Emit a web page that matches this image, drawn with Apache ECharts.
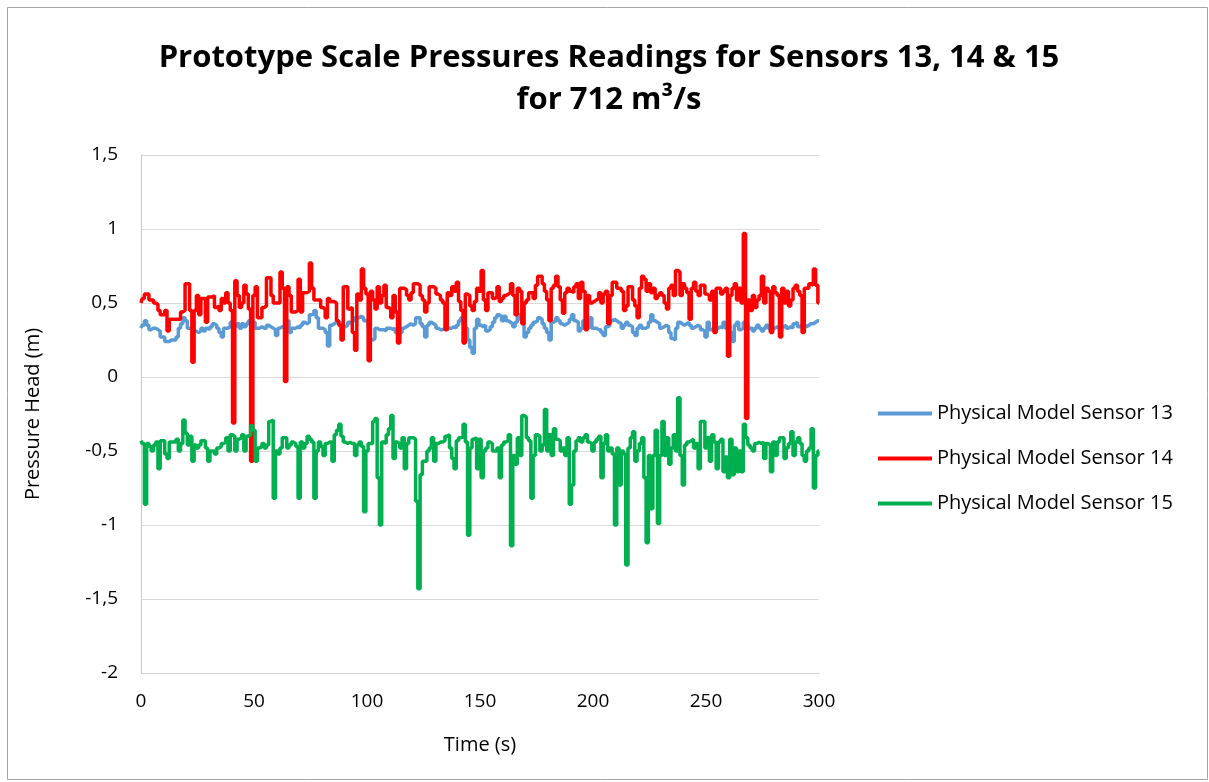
<!DOCTYPE html>
<html>
<head>
<meta charset="utf-8">
<script src="https://cdn.jsdelivr.net/npm/echarts@6/dist/echarts.min.js"></script>
<style>
html,body{margin:0;padding:0;background:#fff;}
#chart{width:1209px;height:782px;}
</style>
</head>
<body>
<div id="chart"></div>
<script>
// Time axis in seconds (0..300, 1 s step)
var timeSeconds = [];
for (var i = 0; i <= 300; i++) timeSeconds.push(i);

var sensor13 = [
0.33,0.35,0.38,0.35,0.32,0.33,0.33,0.32,0.31,0.27,
0.27,0.24,0.24,0.25,0.25,0.25,0.27,0.33,0.36,0.40,
0.38,0.33,0.33,0.33,0.31,0.30,0.31,0.33,0.31,0.33,
0.32,0.34,0.36,0.35,0.33,0.30,0.27,0.33,0.33,0.34,
0.37,0.35,0.34,0.36,0.33,0.36,0.34,0.36,0.38,0.35,
0.37,0.33,0.33,0.34,0.33,0.33,0.35,0.34,0.33,0.32,
0.28,0.33,0.34,0.34,0.34,0.38,0.30,0.33,0.33,0.34,
0.33,0.35,0.37,0.36,0.37,0.42,0.43,0.45,0.40,0.33,
0.33,0.32,0.30,0.21,0.35,0.36,0.37,0.37,0.36,0.37,
0.34,0.35,0.37,0.36,0.38,0.40,0.40,0.41,0.40,0.38,
0.37,0.33,0.25,0.26,0.33,0.32,0.32,0.32,0.31,0.33,
0.33,0.32,0.33,0.30,0.28,0.30,0.33,0.34,0.35,0.36,
0.35,0.36,0.40,0.40,0.36,0.34,0.27,0.35,0.37,0.36,
0.35,0.33,0.32,0.32,0.33,0.32,0.33,0.33,0.34,0.33,
0.35,0.38,0.40,0.36,0.33,0.25,0.20,0.16,0.33,0.39,
0.35,0.34,0.35,0.31,0.32,0.34,0.37,0.40,0.42,0.41,
0.38,0.41,0.38,0.37,0.36,0.34,0.37,0.42,0.39,0.37,
0.27,0.30,0.33,0.35,0.37,0.38,0.40,0.39,0.36,0.33,
0.30,0.25,0.37,0.38,0.40,0.38,0.36,0.35,0.36,0.37,
0.39,0.42,0.38,0.37,0.31,0.33,0.38,0.34,0.33,0.40,
0.33,0.33,0.32,0.32,0.30,0.28,0.34,0.35,0.38,0.39,
0.38,0.37,0.36,0.33,0.35,0.37,0.35,0.34,0.30,0.28,
0.33,0.35,0.33,0.33,0.34,0.37,0.42,0.38,0.37,0.36,
0.33,0.34,0.35,0.34,0.30,0.26,0.25,0.33,0.37,0.36,
0.35,0.36,0.37,0.35,0.33,0.34,0.35,0.34,0.32,0.31,
0.27,0.37,0.32,0.33,0.37,0.33,0.34,0.33,0.37,0.33,
0.36,0.30,0.24,0.35,0.37,0.32,0.33,0.37,0.36,0.33,
0.33,0.31,0.33,0.35,0.33,0.31,0.33,0.35,0.33,0.31,
0.33,0.34,0.33,0.31,0.34,0.35,0.33,0.34,0.33,0.36,
0.37,0.34,0.35,0.35,0.34,0.35,0.36,0.36,0.37,0.38,
0.38
];

var sensor14 = [
0.50,0.53,0.56,0.56,0.52,0.52,0.50,0.49,0.45,0.42,
0.42,0.45,0.31,0.39,0.39,0.39,0.39,0.39,0.44,0.45,
0.63,0.63,0.45,0.10,0.45,0.55,0.42,0.53,0.53,0.37,
0.54,0.54,0.55,0.47,0.48,0.45,0.53,0.50,0.57,0.50,
0.45,-0.31,0.65,0.55,0.47,0.50,0.62,0.56,0.46,-0.57,
0.55,0.61,0.40,0.40,0.47,0.48,0.67,0.67,0.55,0.50,
0.50,0.50,0.71,0.60,-0.03,0.61,0.55,0.44,0.44,0.45,
0.66,0.44,0.57,0.57,0.58,0.77,0.60,0.52,0.52,0.52,
0.47,0.46,0.40,0.53,0.51,0.51,0.50,0.38,0.35,0.25,
0.61,0.61,0.46,0.47,0.30,0.18,0.56,0.52,0.73,0.60,
0.56,0.11,0.58,0.52,0.46,0.61,0.50,0.55,0.62,0.47,
0.46,0.40,0.55,0.44,0.23,0.60,0.60,0.59,0.55,0.52,
0.57,0.63,0.63,0.62,0.55,0.52,0.44,0.50,0.61,0.61,
0.60,0.56,0.55,0.52,0.50,0.32,0.57,0.55,0.61,0.58,
0.64,0.51,0.45,0.23,0.56,0.55,0.48,0.45,0.51,0.60,
0.58,0.72,0.52,0.45,0.57,0.57,0.53,0.54,0.61,0.51,
0.53,0.55,0.56,0.57,0.63,0.55,0.42,0.60,0.58,0.36,
0.50,0.52,0.57,0.57,0.53,0.62,0.68,0.68,0.63,0.58,
0.52,0.38,0.60,0.62,0.68,0.61,0.52,0.43,0.57,0.60,
0.58,0.57,0.61,0.63,0.53,0.64,0.58,0.32,0.55,0.50,
0.51,0.52,0.53,0.57,0.50,0.56,0.58,0.36,0.55,0.64,
0.64,0.60,0.60,0.58,0.45,0.48,0.61,0.61,0.52,0.48,
0.40,0.60,0.68,0.66,0.58,0.63,0.57,0.60,0.53,0.55,
0.57,0.55,0.50,0.46,0.60,0.62,0.55,0.72,0.71,0.55,
0.63,0.60,0.57,0.39,0.60,0.64,0.58,0.55,0.62,0.62,
0.56,0.55,0.52,0.58,0.30,0.60,0.60,0.56,0.58,0.60,
0.14,0.55,0.60,0.63,0.52,0.60,0.50,0.97,-0.28,0.52,
0.45,0.55,0.47,0.52,0.55,0.68,0.50,0.60,0.58,0.30,
0.61,0.57,0.55,0.27,0.60,0.50,0.58,0.48,0.52,0.60,
0.62,0.58,0.55,0.30,0.60,0.60,0.63,0.62,0.73,0.62,
0.50
];

var sensor15 = [
-0.43,-0.45,-0.86,-0.45,-0.47,-0.50,-0.46,-0.44,-0.62,-0.43,
-0.43,-0.52,-0.55,-0.44,-0.44,-0.44,-0.42,-0.50,-0.45,-0.29,
-0.38,-0.46,-0.40,-0.57,-0.46,-0.48,-0.46,-0.43,-0.43,-0.48,
-0.57,-0.50,-0.50,-0.52,-0.48,-0.47,-0.45,-0.44,-0.41,-0.50,
-0.39,-0.40,-0.50,-0.42,-0.41,-0.39,-0.50,-0.40,-0.39,-0.33,
-0.36,-0.57,-0.48,-0.47,-0.45,-0.48,-0.46,-0.30,-0.29,-0.82,
-0.50,-0.52,-0.48,-0.41,-0.41,-0.48,-0.46,-0.44,-0.45,-0.47,
-0.82,-0.44,-0.48,-0.45,-0.40,-0.42,-0.44,-0.82,-0.50,-0.44,
-0.47,-0.53,-0.45,-0.44,-0.44,-0.57,-0.39,-0.36,-0.32,-0.40,
-0.44,-0.45,-0.44,-0.45,-0.45,-0.53,-0.46,-0.44,-0.47,-0.91,
-0.50,-0.45,-0.45,-0.30,-0.28,-0.68,-1.00,-0.44,-0.45,-0.39,
-0.35,-0.26,-0.55,-0.44,-0.45,-0.48,-0.41,-0.62,-0.45,-0.41,
-0.41,-0.42,-0.84,-1.43,-0.66,-0.57,-0.57,-0.50,-0.48,-0.41,
-0.57,-0.45,-0.44,-0.44,-0.43,-0.40,-0.39,-0.48,-0.55,-0.62,
-0.43,-0.41,-0.40,-0.32,-0.44,-1.07,-0.48,-0.42,-0.41,-0.62,
-0.42,-0.68,-0.50,-0.48,-0.44,-0.45,-0.50,-0.50,-0.48,-0.68,
-0.46,-0.44,-0.43,-0.39,-1.14,-0.53,-0.59,-0.41,-0.53,-0.26,
-0.27,-0.41,-0.43,-0.82,-0.53,-0.39,-0.40,-0.50,-0.46,-0.22,
-0.50,-0.39,-0.53,-0.35,-0.42,-0.43,-0.50,-0.48,-0.53,-0.41,
-0.86,-0.73,-0.50,-0.43,-0.41,-0.44,-0.41,-0.39,-0.44,-0.45,
-0.50,-0.44,-0.42,-0.40,-0.68,-0.45,-0.39,-0.50,-0.48,-0.52,
-1.00,-0.48,-0.73,-0.50,-0.52,-1.27,-0.48,-0.41,-0.37,-0.57,
-0.50,-0.45,-0.41,-0.68,-1.12,-0.53,-0.89,-0.53,-0.36,-0.99,
-0.53,-0.30,-0.53,-0.41,-0.59,-0.48,-0.39,-0.50,-0.14,-0.53,
-0.73,-0.46,-0.44,-0.43,-0.42,-0.48,-0.45,-0.62,-0.30,-0.30,
-0.48,-0.41,-0.57,-0.39,-0.44,-0.62,-0.44,-0.42,-0.64,-0.54,
-0.68,-0.42,-0.66,-0.48,-0.64,-0.50,-0.64,-0.32,-0.41,-0.46,
-0.48,-0.50,-0.45,-0.44,-0.45,-0.44,-0.55,-0.45,-0.46,-0.64,
-0.44,-0.53,-0.44,-0.41,-0.41,-0.55,-0.48,-0.45,-0.37,-0.53,
-0.44,-0.41,-0.45,-0.53,-0.57,-0.50,-0.48,-0.35,-0.75,-0.53,
-0.50
];

var seriesNames = ['Physical Model Sensor 13', 'Physical Model Sensor 14', 'Physical Model Sensor 15'];
var seriesColors = ['#5B9BD5', '#FF0000', '#00B050'];
var xTicks = [0, 50, 100, 150, 200, 250, 300];
var yTicks = [-2, -1.5, -1, -0.5, 0, 0.5, 1, 1.5];

function pairs(vals) {
  return vals.map(function (v, i) { return [timeSeconds[i], v]; });
}
var allValues = [sensor13, sensor14, sensor15];

var chart = echarts.init(document.getElementById('chart'), null, {renderer: 'canvas'});
var FONT = '"Open Sans", sans-serif';

chart.setOption({
  animation: false,
  backgroundColor: '#ffffff',
  textStyle: {fontFamily: FONT},
  title: {
    text: 'Prototype Scale Pressures Readings for Sensors 13, 14 & 15\nfor 712 m\u00B3/s',
    left: 609,
    top: 37,
    textAlign: 'center',
    padding: 0,
    textStyle: {fontFamily: FONT, fontWeight: 'bold', fontSize: 31, lineHeight: 42, color: '#000'}
  },
  graphic: [{
    type: 'rect',
    shape: {x: 7.5, y: 7.5, width: 1200, height: 772},
    style: {fill: 'none', stroke: '#a6a6a6', lineWidth: 1},
    silent: true
  }],
  legend: {
    orient: 'vertical',
    left: 878,
    top: 400,
    padding: 0,
    itemWidth: 54,
    itemHeight: 4,
    itemGap: 18,
    icon: 'rect',
    textStyle: {fontFamily: FONT, fontSize: 20, color: '#000', lineHeight: 27},
    data: seriesNames
  },
  grid: {left: 141, right: 390, top: 155, bottom: 109, containLabel: false},
  xAxis: {
    type: 'value',
    min: xTicks[0],
    max: xTicks[xTicks.length - 1],
    interval: 50,
    name: 'Time (s)',
    nameLocation: 'middle',
    nameGap: 62,
    nameTextStyle: {fontFamily: FONT, fontSize: 20, color: '#000'},
    axisLine: {show: true, onZero: false, lineStyle: {color: '#d0d0d0', width: 1}},
    axisTick: {show: false},
    axisLabel: {fontFamily: FONT, fontSize: 19, color: '#000', margin: 19},
    splitLine: {show: false}
  },
  yAxis: {
    type: 'value',
    min: yTicks[0],
    max: yTicks[yTicks.length - 1],
    interval: 0.5,
    name: 'Pressure Head (m)',
    nameLocation: 'middle',
    nameRotate: 90,
    nameGap: 98,
    nameTextStyle: {fontFamily: FONT, fontSize: 20, color: '#000'},
    axisLine: {show: true, lineStyle: {color: '#c8c8c8', width: 1}},
    axisTick: {show: false},
    axisLabel: {
      fontFamily: FONT, fontSize: 19, color: '#000', margin: 23,
      formatter: function (v) { return String(v).replace('.', ','); }
    },
    splitLine: {show: true, lineStyle: {color: '#d9d9d9', width: 1}}
  },
  series: allValues.map(function (vals, k) {
    return {
      name: seriesNames[k],
      type: 'line',
      data: pairs(vals),
      step: 'middle',
      showSymbol: false,
      symbol: 'none',
      lineStyle: {color: seriesColors[k], width: 3.5},
      itemStyle: {color: seriesColors[k]},
      z: 2 + k
    };
  })
});
</script>
</body>
</html>
